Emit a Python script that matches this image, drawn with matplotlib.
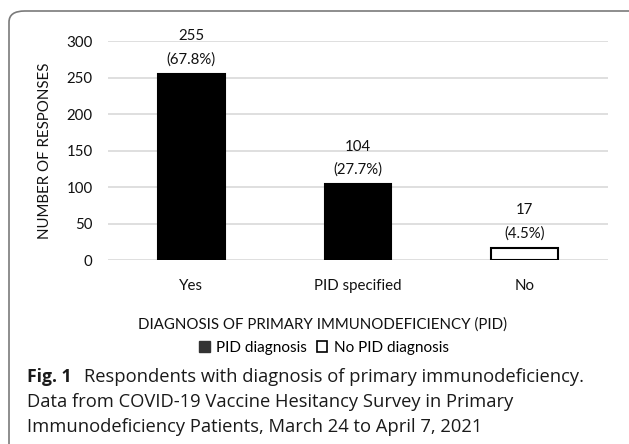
import matplotlib
matplotlib.use("Agg")
import matplotlib.pyplot as plt
from matplotlib.patches import FancyBboxPatch, Patch

categories = ["Yes", "PID specified", "No"]
counts = [255, 104, 17]
percents = ["67.8%", "27.7%", "4.5%"]
groups = ["PID diagnosis", "PID diagnosis", "No PID diagnosis"]
yticks = [0, 50, 100, 150, 200, 250, 300]

W, H = 629, 444
fig = plt.figure(figsize=(W / 100, H / 100), dpi=100)
plt.rcParams['font.family'] = ['Lato', 'DejaVu Sans']

def fx(px):
    return px / W

def fy(py):
    return 1 - py / H

# border
border = FancyBboxPatch((fx(9), fy(470)), fx(650) - fx(9), fy(11) - fy(470),
                        boxstyle="round,pad=0,rounding_size=0.025",
                        transform=fig.transFigure, facecolor="none",
                        edgecolor="#7a7a7a", linewidth=1.2, clip_on=False)
fig.patches.append(border)

ax_l, ax_r, ax_t, ax_b = 108, 608, 41, 260
ax = fig.add_axes([fx(ax_l), fy(ax_b), fx(ax_r) - fx(ax_l), fy(ax_t) - fy(ax_b)])
x = list(range(len(categories)))
faces = ["black" if g == "PID diagnosis" else "white" for g in groups]
ax.bar(x, counts, width=0.4, color=faces, edgecolor="black", linewidth=1.5, zorder=3)
for xi, c, p in zip(x, counts, percents):
    ax.annotate(f"{c}\n({p})", (xi, c), xytext=(0, 5), textcoords="offset points",
                ha="center", va="bottom", fontsize=10.8, color="#111111",
                linespacing=1.8)
ax.set_xlim(-0.5, 2.5)
ax.set_ylim(0, 300)
ax.set_yticks(yticks)
ax.set_xticks(x)
ax.set_xticklabels(categories)
ax.yaxis.grid(True, color="#d9d9d9", linewidth=1.2, zorder=0)
for s in ax.spines.values():
    s.set_visible(False)
ax.tick_params(length=0, labelsize=10.8, colors="#111111")
ax.tick_params(axis="y", pad=11)
ax.tick_params(axis="x", pad=14)
ax.set_ylabel("NUMBER OF RESPONSES", fontsize=10.8, color="#111111", labelpad=10)
ax.set_xlabel("DIAGNOSIS OF PRIMARY IMMUNODEFICIENCY (PID)", fontsize=10.8,
              color="#111111", va="center")
ax.xaxis.set_label_coords((322 - ax_l) / (ax_r - ax_l), (ax_b - 325) / (ax_b - ax_t))

handles = [Patch(facecolor="#333333", edgecolor="#333333", label="PID diagnosis"),
           Patch(facecolor="white", edgecolor="black", linewidth=1.2, label="No PID diagnosis")]
fig.legend(handles=handles, loc="center", bbox_to_anchor=(fx(324), fy(348)), ncol=2,
           frameon=False, fontsize=11, handlelength=0.7, handleheight=0.7,
           handletextpad=0.45, columnspacing=0.6)

# caption
fig.canvas.draw()
r = fig.canvas.get_renderer()
cap_fs = 13.2
cap_fam = ["Open Sans", "DejaVu Sans"]
t = fig.text(fx(27), fy(377), "Fig. 1", fontsize=12.6, fontweight="bold",
             family=cap_fam, va="center", ha="left", color="#1a1a1a")
bb = t.get_window_extent(renderer=r)
fig.text(bb.x1 / W + fx(13), fy(377), "Respondents with diagnosis of primary immunodeficiency.",
         fontsize=cap_fs, family=cap_fam, va="center", ha="left", color="#1a1a1a")
fig.text(fx(27), fy(402), "Data from COVID-19 Vaccine Hesitancy Survey in Primary",
         fontsize=cap_fs, family=cap_fam, va="center", ha="left", color="#1a1a1a")
fig.text(fx(27), fy(427), "Immunodeficiency Patients, March 24 to April 7, 2021",
         fontsize=cap_fs, family=cap_fam, va="center", ha="left", color="#1a1a1a")

fig.savefig("out.png", dpi=100)
